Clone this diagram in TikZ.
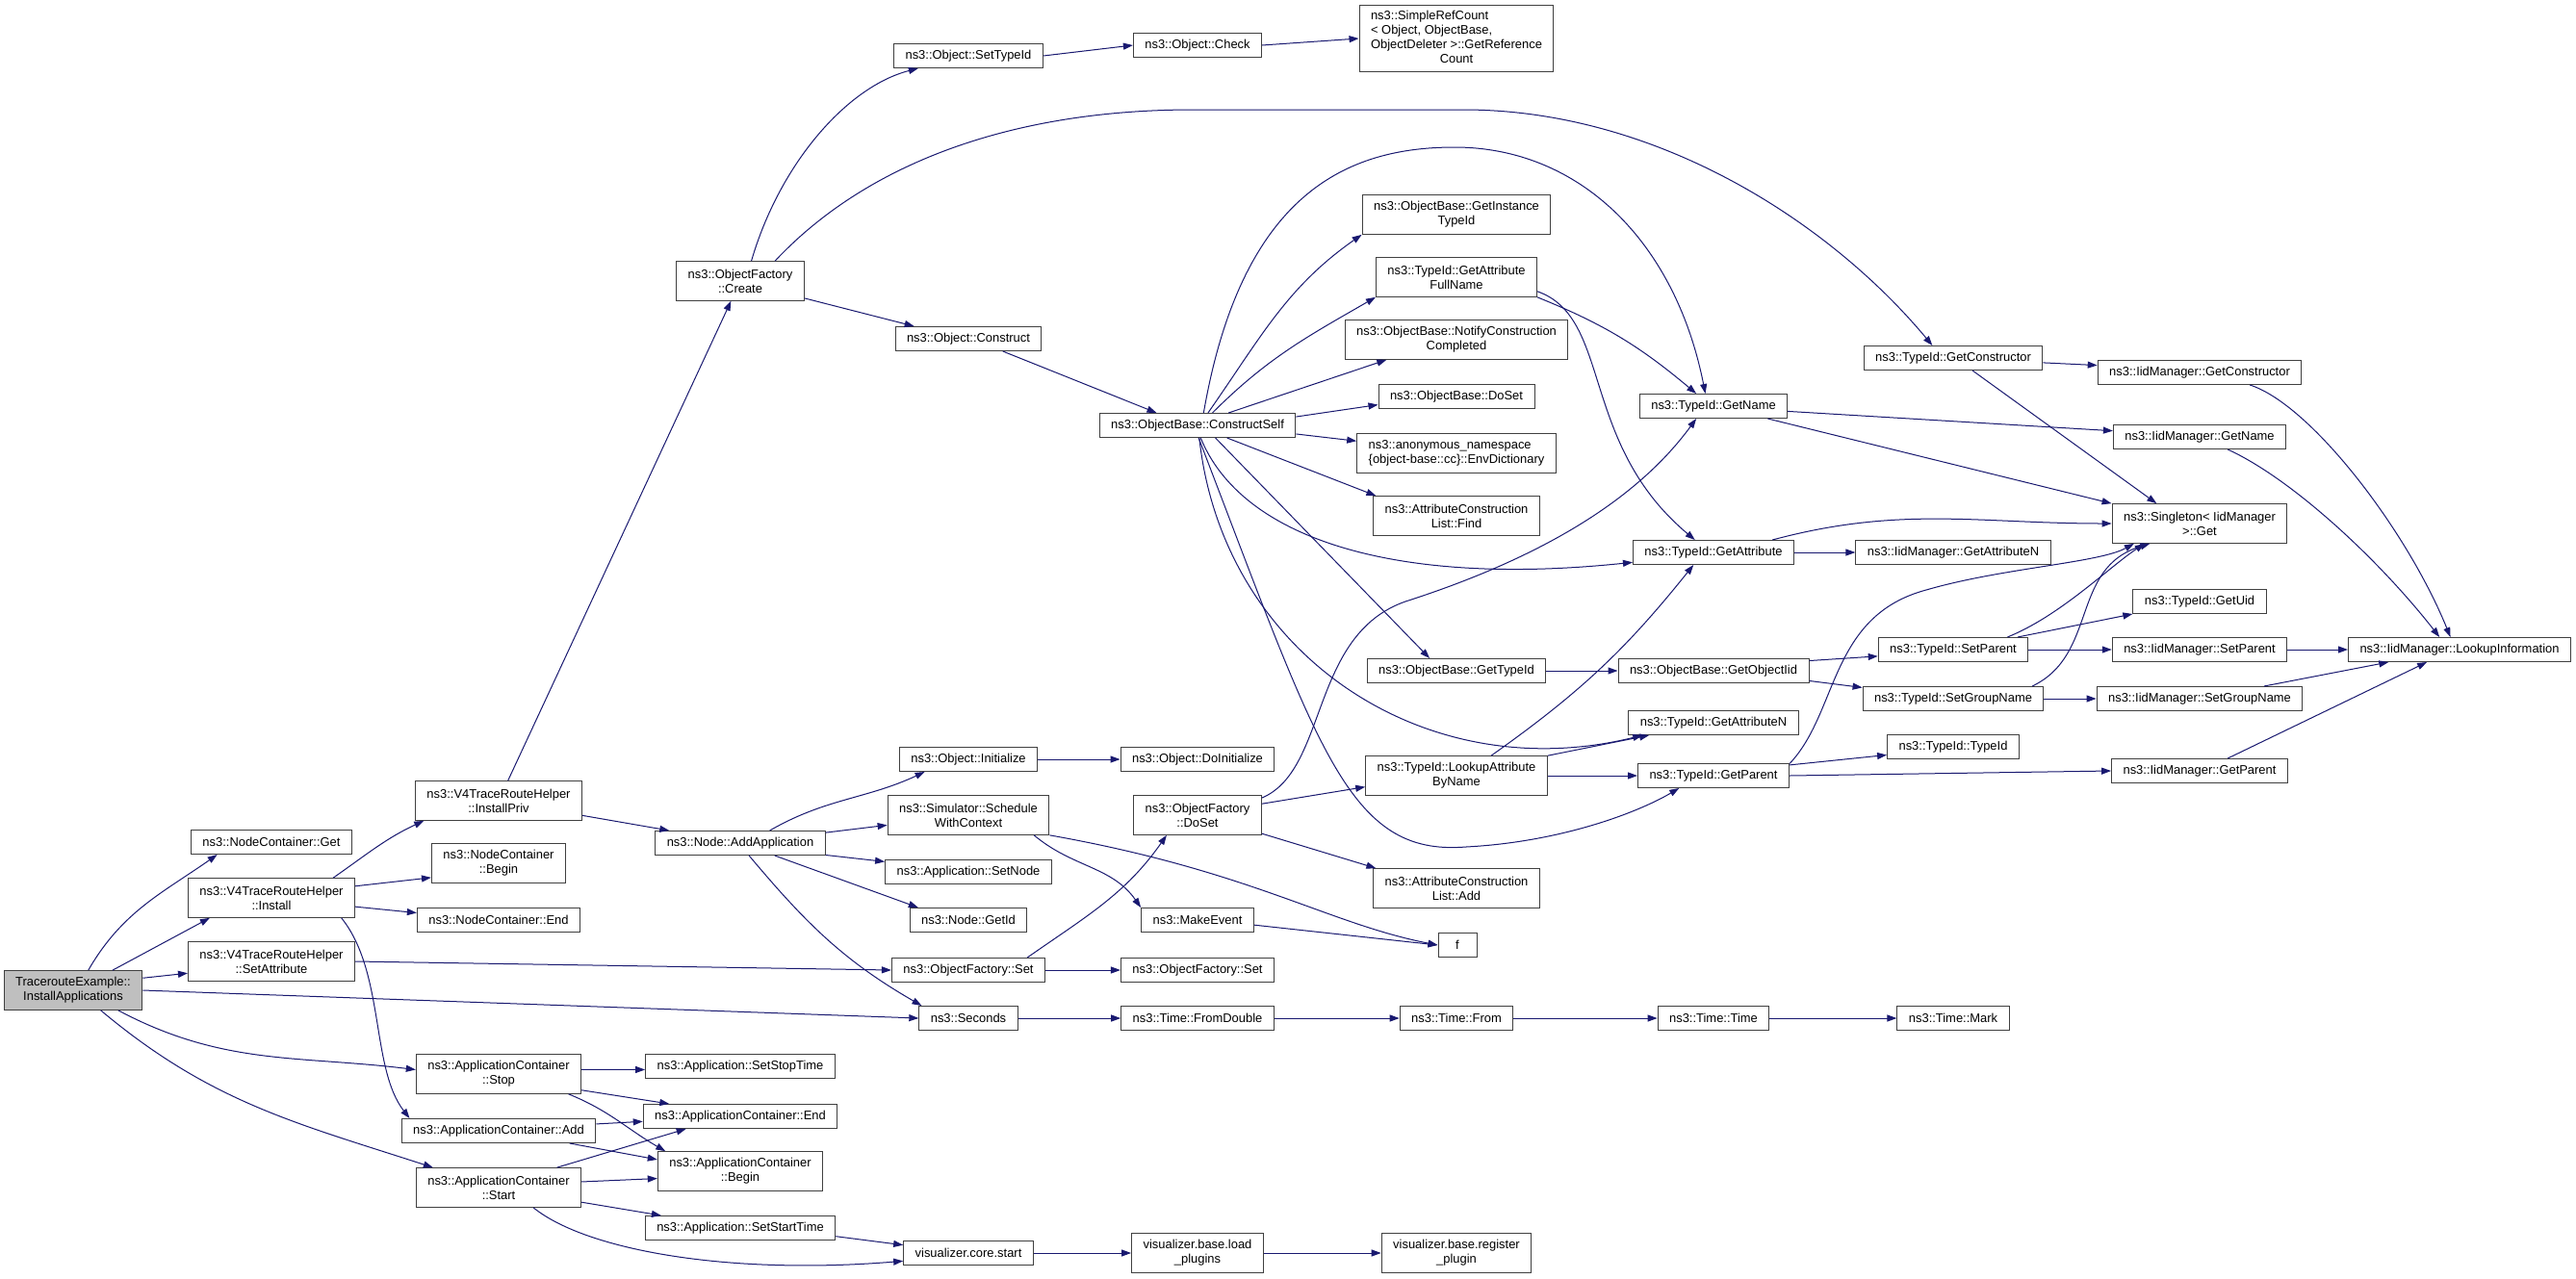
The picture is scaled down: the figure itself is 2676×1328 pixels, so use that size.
\documentclass[tikz,border=0pt]{standalone}
\usepackage{fontspec}
\setmainfont{Liberation Sans}
\usepackage{tikz}
\usetikzlibrary{arrows.meta}

\definecolor{edgeblue}{HTML}{191970}
\definecolor{boxgray}{HTML}{404040}
\definecolor{rootgray}{HTML}{BFBFBF}

\begin{document}
\begin{tikzpicture}[
        x=0.75pt, y=-0.75pt,
        block/.style={
          rectangle,
          draw=boxgray,
          fill=white,
          line width=0.75pt,
          align=center,
          inner xsep=9pt,
          inner ysep=2pt,
          minimum height=18.75pt,
          font=\fontsize{9.7}{11.25}\selectfont
        },
        tall/.style={minimum height=30.5pt},
        line/.style={-{Triangle[length=7.5pt, width=5.25pt]}, draw=edgeblue, line width=0.75pt}
    ]
    \path[use as bounding box, fill=white] (0,0) rectangle (2676,1328);

    % Define the nodes
    \node[block, tall, fill=rootgray] (traceInstall) at (76,1029) {TracerouteExample::\\InstallApplications};
    \node[block] (ncGet) at (282,875) {ns3::NodeContainer::Get};
    \node[block, tall] (helperInstall) at (282,933) {ns3::V4TraceRouteHelper\\::Install};
    \node[block, tall] (helperSetAttr) at (282,999) {ns3::V4TraceRouteHelper\\::SetAttribute};
    \node[block, tall] (helperPriv) at (518,832) {ns3::V4TraceRouteHelper\\::InstallPriv};
    \node[block, tall] (ncBegin) at (518,897) {ns3::NodeContainer\\::Begin};
    \node[block] (ncEnd) at (518,956) {ns3::NodeContainer::End};
    \node[block, tall] (acStop) at (518,1116) {ns3::ApplicationContainer\\::Stop};
    \node[block] (acAdd) at (518,1175) {ns3::ApplicationContainer::Add};
    \node[block, tall] (acStart) at (518,1234) {ns3::ApplicationContainer\\::Start};
    \node[block] (appStopTime) at (769,1108) {ns3::Application::SetStopTime};
    \node[block] (acEnd) at (769,1160) {ns3::ApplicationContainer::End};
    \node[block, tall] (acBegin) at (769,1217) {ns3::ApplicationContainer\\::Begin};
    \node[block] (appStartTime) at (769,1276) {ns3::Application::SetStartTime};
    \node[block, tall] (ofCreate) at (769,292) {ns3::ObjectFactory\\::Create};
    \node[block] (addApp) at (769,876) {ns3::Node::AddApplication};
    \node[block] (objSetTid) at (1006,58) {ns3::Object::SetTypeId};
    \node[block] (objConstruct) at (1006,352) {ns3::Object::Construct};
    \node[block] (objInit) at (1006,789) {ns3::Object::Initialize};
    \node[block, tall] (schedCtx) at (1006,847) {ns3::Simulator::Schedule\\WithContext};
    \node[block] (appSetNode) at (1006,906) {ns3::Application::SetNode};
    \node[block] (nodeGetId) at (1006,956) {ns3::Node::GetId};
    \node[block] (ofSet) at (1006,1008) {ns3::ObjectFactory::Set};
    \node[block] (seconds) at (1006,1058) {ns3::Seconds};
    \node[block] (coreStart) at (1006,1302) {visualizer.core.start};
    \node[block] (objCheck) at (1244,47) {ns3::Object::Check};
    \node[block] (constructSelf) at (1244,442) {ns3::ObjectBase::ConstructSelf};
    \node[block] (objDoInit) at (1244,789) {ns3::Object::DoInitialize};
    \node[block, tall] (ofDoSet) at (1244,847) {ns3::ObjectFactory\\::DoSet};
    \node[block] (makeEvent) at (1244,956) {ns3::MakeEvent};
    \node[block] (ofSetB) at (1244,1008) {ns3::ObjectFactory::Set};
    \node[block] (fromDouble) at (1244,1058) {ns3::Time::FromDouble};
    \node[block, tall] (loadPlugins) at (1244,1302) {visualizer.base.load\\\_plugins};
    \node[block, minimum height=52pt] (refCount) at (1513,40) {\begin{tabular}{@{}l@{}}ns3::SimpleRefCount\\< Object, ObjectBase,\\ObjectDeleter >::GetReference\\\multicolumn{1}{@{}c@{}}{Count}\end{tabular}};
    \node[block, tall] (getInstTid) at (1513,223) {ns3::ObjectBase::GetInstance\\TypeId};
    \node[block, tall] (attrFullName) at (1513,288) {ns3::TypeId::GetAttribute\\FullName};
    \node[block, tall] (notifyDone) at (1513,353) {ns3::ObjectBase::NotifyConstruction\\Completed};
    \node[block] (obDoSet) at (1513,412) {ns3::ObjectBase::DoSet};
    \node[block, tall, align=left] (envDict) at (1513,471) {ns3::anonymous\_namespace\\\{object-base::cc\}::EnvDictionary};
    \node[block, tall] (aclFind) at (1513,536) {ns3::AttributeConstruction\\List::Find};
    \node[block] (obGetTid) at (1513,697) {ns3::ObjectBase::GetTypeId};
    \node[block, tall] (lookupAttr) at (1513,806) {ns3::TypeId::LookupAttribute\\ByName};
    \node[block, tall] (aclAdd) at (1513,923) {ns3::AttributeConstruction\\List::Add};
    \node[block, minimum width=30pt] (fn) at (1514,982) {f};
    \node[block] (timeFrom) at (1513,1058) {ns3::Time::From};
    \node[block, tall] (registerPlugin) at (1513,1302) {visualizer.base.register\\\_plugin};
    \node[block] (tidGetName) at (1780,422) {ns3::TypeId::GetName};
    \node[block] (tidGetAttr) at (1780,574) {ns3::TypeId::GetAttribute};
    \node[block] (getObjIid) at (1780,697) {ns3::ObjectBase::GetObjectIid};
    \node[block] (tidGetAttrN) at (1780,751) {ns3::TypeId::GetAttributeN};
    \node[block] (tidGetParent) at (1780,806) {ns3::TypeId::GetParent};
    \node[block] (timeTime) at (1780,1058) {ns3::Time::Time};
    \node[block] (tidGetCtor) at (2029,372) {ns3::TypeId::GetConstructor};
    \node[block] (iidGetAttrN) at (2029,574) {ns3::IidManager::GetAttributeN};
    \node[block] (tidSetParent) at (2029,675) {ns3::TypeId::SetParent};
    \node[block] (tidSetGroup) at (2029,726) {ns3::TypeId::SetGroupName};
    \node[block] (tidTypeId) at (2029,776) {ns3::TypeId::TypeId};
    \node[block] (timeMark) at (2029,1058) {ns3::Time::Mark};
    \node[block] (iidGetCtor) at (2285,387) {ns3::IidManager::GetConstructor};
    \node[block] (iidGetName) at (2285,454) {ns3::IidManager::GetName};
    \node[block, tall] (singletonGet) at (2285,544) {ns3::Singleton< IidManager\\>::Get};
    \node[block] (tidGetUid) at (2285,625) {ns3::TypeId::GetUid};
    \node[block] (iidSetParent) at (2285,675) {ns3::IidManager::SetParent};
    \node[block] (iidSetGroup) at (2285,726) {ns3::IidManager::SetGroupName};
    \node[block] (iidGetParent) at (2285,801) {ns3::IidManager::GetParent};
    \node[block] (iidLookup) at (2555,675) {ns3::IidManager::LookupInformation};

    % Connect the nodes
    \draw[line] (traceInstall.53) to[out=60,in=215] (ncGet.193);
    \draw[line] (traceInstall.27) -- (helperInstall.198);
    \draw[line] (traceInstall.10) -- (helperSetAttr.188);
    \draw[line] (traceInstall.east) -- (seconds.west);
    \draw[line] (traceInstall.-24) to[out=-28,in=173] (acStop.177);
    \draw[line] (traceInstall.-36) to[out=-40,in=162] (acStart.163);
    \draw[line] (helperInstall.18) to[out=35,in=205] (helperPriv.195);
    \draw[line] (helperInstall.8) -- (ncBegin.192);
    \draw[line] (helperInstall.-6) -- (ncEnd.175);
    \draw[line] (helperInstall.-16) .. controls (400,1010) and (385,1110) .. (acAdd.172);
    \draw[line] (helperSetAttr.east) -- (ofSet.west);
    \draw[line] (helperPriv) -- (ofCreate);
    \draw[line] (helperPriv.-10) -- (addApp.170);
    \draw[line] (addApp.23) to[out=30,in=205] (objInit.196);
    \draw[line] (addApp.7) -- (schedCtx.187);
    \draw[line] (addApp.-8) -- (appSetNode.173);
    \draw[line] (addApp.-20) -- (nodeGetId.166);
    \draw[line] (addApp.-55) to[out=-50,in=150] (seconds.165);
    \draw[line] (acStop.3) -- (appStopTime.182);
    \draw[line] (acStop.-11) -- (acEnd.170);
    \draw[line] (acStop.-16) to[out=-22,in=150] (acBegin.165);
    \draw[line] (acAdd.4) -- (acEnd.183);
    \draw[line] (acAdd.-10) -- (acBegin.172);
    \draw[line] (acStart.19) -- (acEnd.193);
    \draw[line] (acStart.4) -- (acBegin.185);
    \draw[line] (acStart.-10) -- (appStartTime.171);
    \draw[line] (acStart.-30) .. controls (610,1300) and (760,1325) .. (coreStart.187);
    \draw[line] (appStartTime.-5) -- (coreStart.173);
    \draw[line] (coreStart) -- (loadPlugins);
    \draw[line] (loadPlugins) -- (registerPlugin);
    \draw[line] (ofCreate.61) .. controls (810,170) and (880,90) .. (objSetTid.194);
    \draw[line] (ofCreate.-15) -- (objConstruct.167);
    \draw[line] (ofCreate.30) .. controls (900,170) and (1050,114) .. (1240,114) -- (1520,114)
        .. controls (1720,114) and (1900,230) .. (tidGetCtor.149);
    \draw[line] (objSetTid.east) -- (objCheck.west);
    \draw[line] (objCheck.east) -- (refCount.west);
    \draw[line] (objConstruct.-20) -- (constructSelf.163);
    \draw[line] (constructSelf.50) to[out=55,in=215] (getInstTid.south west);
    \draw[line] (constructSelf.40) to[out=45,in=210] (attrFullName.south west);
    \draw[line] (constructSelf.22) -- (notifyDone.196);
    \draw[line] (constructSelf.5) -- (obDoSet.186);
    \draw[line] (constructSelf.-5) -- (envDict.173);
    \draw[line] (constructSelf.-23) -- (aclFind.166);
    \draw[line] (constructSelf.64) .. controls (1290,200) and (1400,153) .. (1511,153)
        .. controls (1640,153) and (1740,250) .. (tidGetName.123);
    \draw[line] (constructSelf.-76) .. controls (1290,560) and (1450,610) .. (tidGetAttr.187);
    \draw[line] (constructSelf.-35) -- (obGetTid.155);
    \draw[line] (constructSelf.-82) .. controls (1270,680) and (1480,820) .. (tidGetAttrN.190);
    \draw[line] (constructSelf.-85) .. controls (1370,780) and (1400,890) .. (1523,880)
        .. controls (1620,875) and (1700,845) .. (tidGetParent.200);
    \draw[line] (attrFullName.south east) to[out=-22,in=140] (tidGetName.144);
    \draw[line] (attrFullName.-10) .. controls (1675,330) and (1640,460) .. (tidGetAttr.146);
    \draw[line] (objInit) -- (objDoInit);
    \draw[line] (schedCtx.-17) to[out=-40,in=125] (makeEvent.north west);
    \draw[line] (schedCtx.south east) .. controls (1300,905) and (1380,960) .. (fn.west);
    \draw[line] (makeEvent.-5) -- (fn.west);
    \draw[line] (ofSet.12) to[out=35,in=235] (ofDoSet.213);
    \draw[line] (ofSet) -- (ofSetB);
    \draw[line] (ofDoSet.10) -- (lookupAttr.187);
    \draw[line] (ofDoSet.-16) -- (aclAdd.166);
    \draw[line] (ofDoSet.15) .. controls (1380,800) and (1360,660) .. (1460,625)
        .. controls (1600,580) and (1700,520) .. (tidGetName.216);
    \draw[line] (lookupAttr.north east) -- (tidGetAttrN.191);
    \draw[line] (lookupAttr.east) -- (tidGetParent.west);
    \draw[line] (lookupAttr.30) to[bend right=8] (tidGetAttr.212);
    \draw[line] (obGetTid) -- (getObjIid);
    \draw[line] (getObjIid.6) -- (tidSetParent.185);
    \draw[line] (getObjIid.-6) -- (tidSetGroup.173);
    \draw[line] (tidSetParent.11) -- (tidGetUid.south west);
    \draw[line] (tidSetParent) -- (iidSetParent);
    \draw[line] (tidSetParent.13) .. controls (2140,640) and (2190,590) .. (singletonGet.200);
    \draw[line] (tidSetGroup) -- (iidSetGroup);
    \draw[line] (tidSetGroup.9) .. controls (2180,680) and (2150,590) .. (singletonGet.202);
    \draw[line] (tidGetParent.8) -- (tidTypeId.187);
    \draw[line] (tidGetParent.east) -- (iidGetParent.west);
    \draw[line] (tidGetParent.9) .. controls (1910,740) and (1900,640) .. (2001,613)
        .. controls (2080,590) and (2180,585) .. (singletonGet.197);
    \draw[line] (tidGetAttr) -- (iidGetAttrN);
    \draw[line] (tidGetAttr.12) to[out=15,in=180] (singletonGet.west);
    \draw[line] (tidGetName.-4) -- (iidGetName.176);
    \draw[line] (tidGetName.-13) -- (singletonGet.north west);
    \draw[line] (tidGetCtor.-3) -- (iidGetCtor.176);
    \draw[line] (tidGetCtor.-33) -- (singletonGet.155);
    \draw[line] (iidGetCtor.-14) .. controls (2400,420) and (2500,550) .. (iidLookup.126);
    \draw[line] (iidGetName.-24) .. controls (2380,497) and (2470,580) .. (iidLookup.148);
    \draw[line] (iidSetParent) -- (iidLookup);
    \draw[line] (iidSetGroup.11) -- (iidLookup.190);
    \draw[line] (iidGetParent.24) -- (iidLookup.201);
    \draw[line] (seconds) -- (fromDouble);
    \draw[line] (fromDouble) -- (timeFrom);
    \draw[line] (timeFrom) -- (timeTime);
    \draw[line] (timeTime) -- (timeMark);

    \end{tikzpicture}
\end{document}
